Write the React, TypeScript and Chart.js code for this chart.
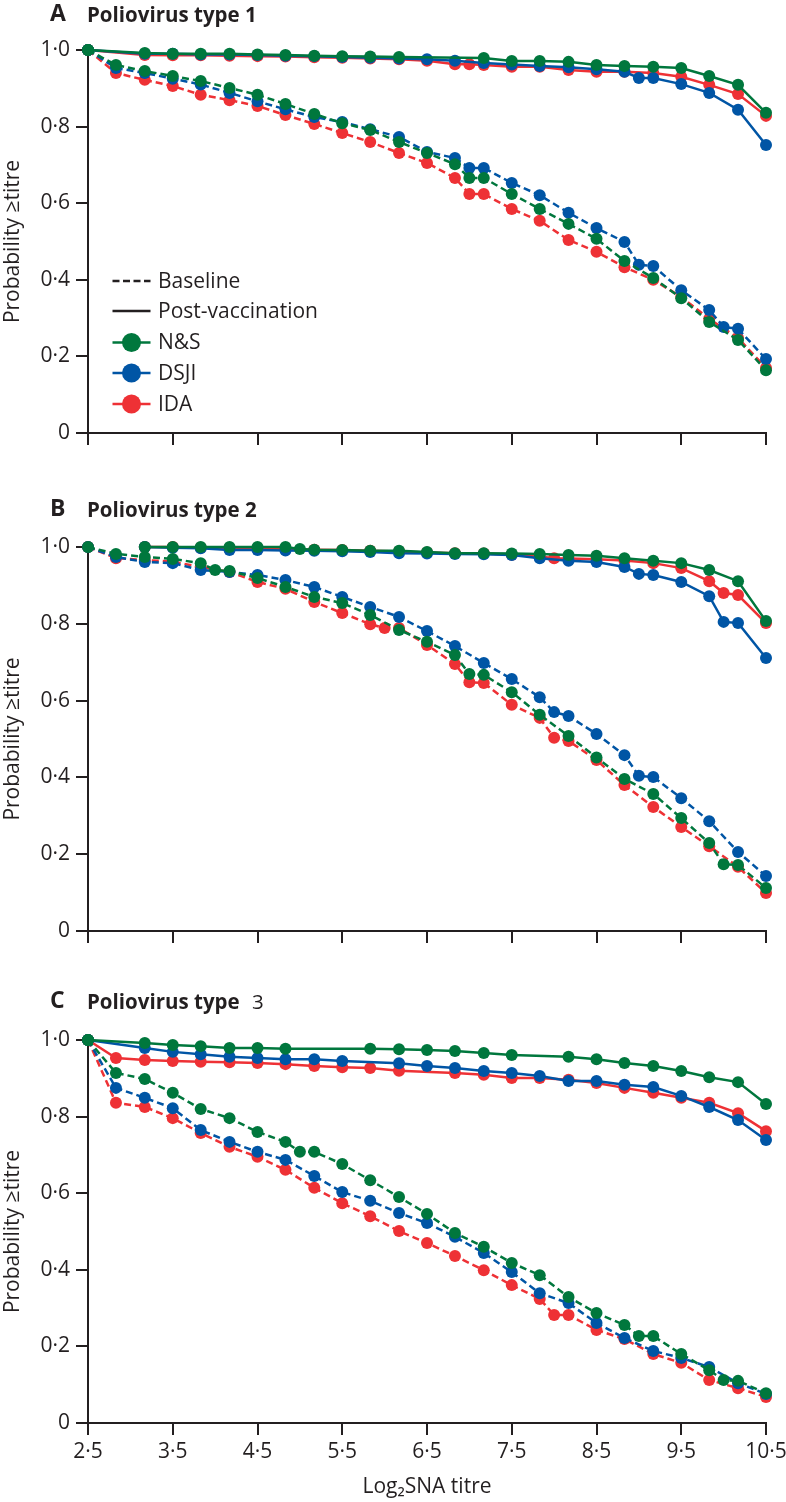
import React, { useEffect, useRef } from 'react';
import { Chart, registerables } from 'chart.js';
Chart.register(...registerables);

const X_TICKS = [2.5, 3.5, 4.5, 5.5, 6.5, 7.5, 8.5, 9.5, 10.5];
const X_TICK_LABELS = ['2·5', '3·5', '4·5', '5·5', '6·5', '7·5', '8·5', '9·5', '10·5'];
const Y_TICKS = [0, 0.2, 0.4, 0.6, 0.8, 1.0];
const Y_TICK_LABELS = ['0', '0·2', '0·4', '0·6', '0·8', '1·0'];
const GROUPS = ['N&S', 'DSJI', 'IDA'];
const COLORS = ['#00773d', '#0055a5', '#ee3135'];

// Panel A – Poliovirus type 1
const A_POST_NS = [[2.5,1.0],[3.17,0.992],[3.5,0.99],[3.83,0.99],[4.17,0.99],[4.5,0.988],[4.83,0.987],[5.17,0.985],[5.5,0.984],[5.83,0.983],[6.17,0.982],[7.17,0.979],[7.5,0.971],[7.83,0.971],[8.17,0.969],[8.5,0.961],[8.83,0.958],[9.17,0.956],[9.5,0.953],[9.83,0.932],[10.17,0.909],[10.5,0.836]];
const A_POST_DSJI = [[2.5,1.0],[3.17,0.99],[3.5,0.99],[3.83,0.988],[4.17,0.988],[4.5,0.987],[4.83,0.985],[5.17,0.984],[5.5,0.982],[5.83,0.98],[6.17,0.978],[6.5,0.976],[6.83,0.972],[7.17,0.966],[7.5,0.962],[7.83,0.958],[8.17,0.955],[8.5,0.95],[8.83,0.943],[9.0,0.927],[9.17,0.927],[9.5,0.911],[9.83,0.888],[10.17,0.844],[10.5,0.752]];
const A_POST_IDA = [[2.5,1.0],[3.17,0.987],[3.5,0.986],[3.83,0.986],[4.17,0.985],[4.5,0.984],[4.83,0.983],[5.17,0.981],[5.5,0.98],[5.83,0.978],[6.17,0.976],[6.5,0.972],[6.83,0.963],[7.0,0.963],[7.17,0.961],[7.5,0.956],[7.83,0.956],[8.17,0.948],[8.5,0.943],[8.83,0.943],[9.17,0.94],[9.5,0.93],[9.83,0.909],[10.17,0.885],[10.5,0.828]];
const A_BASE_NS = [[2.5,1.0],[2.83,0.961],[3.17,0.945],[3.5,0.932],[3.83,0.919],[4.17,0.901],[4.5,0.883],[4.83,0.859],[5.17,0.833],[5.5,0.809],[5.83,0.791],[6.17,0.76],[6.5,0.731],[6.83,0.702],[7.0,0.666],[7.17,0.666],[7.5,0.624],[7.83,0.585],[8.17,0.546],[8.5,0.507],[8.83,0.449],[9.17,0.405],[9.5,0.352],[9.83,0.29],[10.17,0.243],[10.5,0.164]];
const A_BASE_DSJI = [[2.5,1.0],[2.83,0.953],[3.17,0.94],[3.5,0.925],[3.83,0.91],[4.17,0.888],[4.5,0.866],[4.83,0.845],[5.17,0.825],[5.5,0.812],[5.83,0.793],[6.17,0.773],[6.5,0.734],[6.83,0.718],[7.0,0.692],[7.17,0.692],[7.5,0.653],[7.83,0.621],[8.17,0.575],[8.5,0.535],[8.83,0.499],[9.0,0.439],[9.17,0.436],[9.5,0.373],[9.83,0.321],[10.0,0.277],[10.17,0.272],[10.5,0.193]];
const A_BASE_IDA = [[2.5,1.0],[2.83,0.94],[3.17,0.922],[3.5,0.906],[3.83,0.883],[4.17,0.869],[4.5,0.854],[4.83,0.83],[5.17,0.807],[5.5,0.783],[5.83,0.76],[6.17,0.731],[6.5,0.705],[6.83,0.666],[7.0,0.624],[7.17,0.624],[7.5,0.585],[7.83,0.554],[8.17,0.504],[8.5,0.473],[8.83,0.433],[9.17,0.4],[9.5,0.355],[9.83,0.298],[10.17,0.248],[10.5,0.17]];

// Panel B – Poliovirus type 2
const B_POST_NS = [[3.17,1.0],[3.5,1.0],[3.83,1.0],[4.17,1.0],[4.5,1.0],[4.83,1.0],[5.0,0.995],[5.17,0.993],[5.5,0.992],[5.83,0.99],[6.17,0.99],[6.5,0.987],[6.83,0.984],[7.17,0.984],[7.5,0.983],[7.83,0.982],[8.17,0.979],[8.5,0.977],[8.83,0.971],[9.17,0.964],[9.5,0.958],[9.83,0.94],[10.17,0.911],[10.5,0.807]];
const B_POST_DSJI = [[3.17,1.0],[3.5,0.998],[3.83,0.997],[4.17,0.992],[4.5,0.992],[4.83,0.991],[5.17,0.99],[5.5,0.989],[5.83,0.987],[6.17,0.984],[6.5,0.983],[6.83,0.982],[7.17,0.981],[7.5,0.979],[7.83,0.971],[8.17,0.964],[8.5,0.961],[8.83,0.948],[9.0,0.93],[9.17,0.927],[9.5,0.909],[9.83,0.872],[10.0,0.805],[10.17,0.802],[10.5,0.711]];
const B_POST_IDA = [[3.17,1.0],[3.5,1.0],[3.83,0.998],[4.17,0.996],[4.5,0.995],[4.83,0.994],[5.17,0.993],[5.5,0.992],[5.83,0.99],[6.17,0.988],[6.5,0.986],[6.83,0.984],[7.17,0.983],[7.5,0.98],[7.83,0.975],[8.0,0.971],[8.17,0.97],[8.5,0.968],[8.83,0.965],[9.17,0.958],[9.5,0.945],[9.83,0.911],[10.0,0.88],[10.17,0.875],[10.5,0.802]];
const B_BASE_NS = [[2.5,1.0],[2.83,0.982],[3.17,0.974],[3.5,0.969],[3.83,0.958],[4.0,0.94],[4.17,0.9375],[4.5,0.919],[4.83,0.896],[5.17,0.87],[5.5,0.854],[5.83,0.823],[6.17,0.784],[6.5,0.753],[6.83,0.719],[7.0,0.669],[7.17,0.667],[7.5,0.622],[7.83,0.563],[8.17,0.508],[8.5,0.452],[8.83,0.396],[9.17,0.357],[9.5,0.294],[9.83,0.229],[10.0,0.174],[10.17,0.172],[10.5,0.112]];
const B_BASE_DSJI = [[2.5,1.0],[2.83,0.974],[3.17,0.961],[3.5,0.958],[3.83,0.94],[4.17,0.935],[4.5,0.927],[4.83,0.914],[5.17,0.896],[5.5,0.87],[5.83,0.844],[6.17,0.818],[6.5,0.781],[6.83,0.742],[7.17,0.698],[7.5,0.656],[7.83,0.609],[8.0,0.57],[8.17,0.56],[8.5,0.513],[8.83,0.458],[9.0,0.404],[9.17,0.401],[9.5,0.346],[9.83,0.286],[10.17,0.206],[10.5,0.143]];
const B_BASE_IDA = [[2.5,1.0],[2.83,0.971],[3.17,0.966],[3.5,0.962],[3.83,0.948],[4.17,0.935],[4.5,0.909],[4.83,0.891],[5.17,0.857],[5.5,0.828],[5.83,0.799],[6.0,0.789],[6.17,0.789],[6.5,0.745],[6.83,0.695],[7.0,0.648],[7.17,0.646],[7.5,0.589],[7.83,0.555],[8.0,0.503],[8.17,0.495],[8.5,0.445],[8.83,0.38],[9.17,0.323],[9.5,0.271],[9.83,0.221],[10.17,0.167],[10.5,0.099]];

// Panel C – Poliovirus type 3
const C_POST_NS = [[2.5,1.0],[3.17,0.992],[3.5,0.987],[3.83,0.984],[4.17,0.979],[4.5,0.979],[4.83,0.977],[5.83,0.977],[6.17,0.976],[6.5,0.974],[6.83,0.971],[7.17,0.966],[7.5,0.961],[8.17,0.956],[8.5,0.95],[8.83,0.94],[9.17,0.932],[9.5,0.919],[9.83,0.903],[10.17,0.89],[10.5,0.833]];
const C_POST_DSJI = [[2.5,1.0],[3.17,0.979],[3.5,0.969],[3.83,0.963],[4.17,0.956],[4.5,0.953],[4.83,0.95],[5.17,0.95],[5.5,0.945],[6.17,0.939],[6.5,0.932],[6.83,0.927],[7.17,0.919],[7.5,0.914],[7.83,0.906],[8.17,0.893],[8.5,0.893],[8.83,0.883],[9.17,0.877],[9.5,0.854],[9.83,0.825],[10.17,0.791],[10.5,0.739]];
const C_POST_IDA = [[2.5,1.0],[2.83,0.953],[3.17,0.948],[3.5,0.945],[3.83,0.943],[4.17,0.942],[4.5,0.94],[4.83,0.937],[5.17,0.932],[5.5,0.929],[5.83,0.927],[6.17,0.92],[6.83,0.914],[7.17,0.909],[7.5,0.901],[7.83,0.901],[8.17,0.896],[8.5,0.888],[8.83,0.875],[9.17,0.862],[9.5,0.849],[9.83,0.836],[10.17,0.809],[10.5,0.762]];
const C_BASE_NS = [[2.5,1.0],[2.83,0.914],[3.17,0.898],[3.5,0.862],[3.83,0.82],[4.17,0.796],[4.5,0.76],[4.83,0.734],[5.0,0.708],[5.17,0.708],[5.5,0.676],[5.83,0.634],[6.17,0.59],[6.5,0.546],[6.83,0.496],[7.17,0.46],[7.5,0.418],[7.83,0.386],[8.17,0.329],[8.5,0.287],[8.83,0.256],[9.0,0.227],[9.17,0.227],[9.5,0.18],[9.83,0.138],[10.0,0.112],[10.17,0.11],[10.5,0.078]];
const C_BASE_DSJI = [[2.5,1.0],[2.83,0.875],[3.17,0.849],[3.5,0.822],[3.83,0.765],[4.17,0.734],[4.5,0.708],[4.83,0.687],[5.17,0.645],[5.5,0.603],[5.83,0.58],[6.17,0.548],[6.5,0.522],[6.83,0.486],[7.17,0.444],[7.5,0.394],[7.83,0.339],[8.17,0.313],[8.5,0.261],[8.83,0.222],[9.17,0.188],[9.5,0.17],[9.83,0.146],[10.17,0.104],[10.5,0.076]];
const C_BASE_IDA = [[2.5,1.0],[2.83,0.836],[3.17,0.825],[3.5,0.796],[3.83,0.757],[4.17,0.721],[4.5,0.695],[4.83,0.661],[5.17,0.614],[5.5,0.574],[5.83,0.54],[6.17,0.501],[6.5,0.47],[6.83,0.436],[7.17,0.399],[7.5,0.36],[7.83,0.324],[8.0,0.282],[8.17,0.282],[8.5,0.243],[8.83,0.219],[9.17,0.18],[9.5,0.157],[9.83,0.112],[10.17,0.091],[10.5,0.068]];

const INK = '#231f20';
const FONT = "'Open Sans', sans-serif";
const FS = 21;
const CANVAS_W = 806;

type Pts = number[][];

function dataset(pts: Pts, color: string, dashed: boolean, label: string) {
  return {
    label,
    data: pts.map(([x, y]) => ({ x, y })),
    borderColor: color,
    backgroundColor: color,
    pointBackgroundColor: color,
    pointBorderColor: color,
    pointBorderWidth: 0,
    pointRadius: 6,
    borderWidth: 2.5,
    borderDash: dashed ? [7, 4] : [],
    tension: 0,
    clip: false as const,
  };
}

interface PanelProps {
  top: number;
  height: number;
  padTop: number;
  xAxisHeight: number;
  showXLabels: boolean;
  post: Pts[];
  base: Pts[];
}

function PanelChart(p: PanelProps) {
  const ref = useRef<HTMLCanvasElement>(null);
  useEffect(() => {
    if (!ref.current) return;
    const datasets: any[] = [];
    GROUPS.forEach((g, i) => {
      datasets.push(dataset(p.post[i], COLORS[i], false, g + ' post'));
      datasets.push(dataset(p.base[i], COLORS[i], true, g + ' baseline'));
    });
    const gridOpts = {
      drawOnChartArea: false,
      drawTicks: true,
      tickLength: 12,
      lineWidth: 2,
      color: INK,
    };
    const chart = new Chart(ref.current, {
      type: 'line',
      data: { datasets },
      options: {
        responsive: false,
        maintainAspectRatio: false,
        animation: false,
        layout: { padding: { top: p.padTop, left: 0, right: CANVAS_W - 766, bottom: 0 } },
        plugins: { legend: { display: false }, tooltip: { enabled: false } },
        scales: {
          x: {
            type: 'linear',
            min: 2.5,
            max: 10.5,
            afterBuildTicks: (s: any) => { s.ticks = X_TICKS.map((v) => ({ value: v })); },
            afterFit: (s: any) => { s.height = p.xAxisHeight; },
            ticks: {
              display: p.showXLabels,
              autoSkip: false,
              maxRotation: 0,
              padding: 4,
              color: INK,
              font: { family: FONT, size: FS },
              callback: (_v: any, i: number) => X_TICK_LABELS[i],
            },
            grid: gridOpts,
            border: { display: true, width: 2, color: INK },
            title: {
              display: p.showXLabels,
              text: 'Log₂SNA titre',
              color: INK,
              font: { family: FONT, size: FS },
              padding: { top: 0, bottom: 2 },
            },
          },
          y: {
            type: 'linear',
            min: 0,
            max: 1,
            afterBuildTicks: (s: any) => { s.ticks = Y_TICKS.map((v) => ({ value: v })); },
            afterFit: (s: any) => { s.width = 88; },
            ticks: {
              padding: 6,
              color: INK,
              font: { family: FONT, size: FS },
              callback: (_v: any, i: number) => Y_TICK_LABELS[i],
            },
            grid: gridOpts,
            border: { display: true, width: 2, color: INK },
            title: {
              display: true,
              text: 'Probability ≥titre',
              color: INK,
              font: { family: FONT, size: FS },
              padding: { top: 0, bottom: 0 },
            },
          },
        },
      } as any,
    });
    return () => chart.destroy();
  }, []);
  return (
    <canvas
      ref={ref}
      width={CANVAS_W}
      height={p.height}
      style={{ position: 'absolute', left: 0, top: p.top, width: CANVAS_W, height: p.height }}
    />
  );
}

function PanelTitle({ letter, text, top, extra }: { letter: string; text: string; top: number; extra?: string }) {
  return (
    <>
      <div style={{ position: 'absolute', left: 50, top: top - 3, font: `bold 23px ${FONT}`, lineHeight: '23px', color: INK }}>{letter}</div>
      <div style={{ position: 'absolute', left: 87, top, font: `bold 20.5px ${FONT}`, lineHeight: '20px', color: INK, whiteSpace: 'pre' }}>
        {text}
        {extra ? <span style={{ fontWeight: 400, marginLeft: 7 }}>{extra}</span> : null}
      </div>
    </>
  );
}

const LEGEND_ROWS = [
  { label: 'Baseline', y: 281, kind: 'dash', color: INK },
  { label: 'Post-vaccination', y: 311, kind: 'solid', color: INK },
  { label: GROUPS[0], y: 342.5, kind: 'dot', color: COLORS[0] },
  { label: GROUPS[1], y: 373, kind: 'dot', color: COLORS[1] },
  { label: GROUPS[2], y: 404, kind: 'dot', color: COLORS[2] },
];

function Legend() {
  return (
    <>
      <svg style={{ position: 'absolute', left: 0, top: 0 }} width={200} height={430}>
        {LEGEND_ROWS.map((r) => (
          <g key={r.label}>
            <line x1={112.5} x2={150.5} y1={r.y} y2={r.y} stroke={r.color} strokeWidth={2.5} strokeDasharray={r.kind === 'dash' ? '7 3.5' : undefined} />
            {r.kind === 'dot' ? <circle cx={131.5} cy={r.y} r={9.5} fill={r.color} /> : null}
          </g>
        ))}
      </svg>
      {LEGEND_ROWS.map((r) => (
        <div key={r.label + 't'} style={{ position: 'absolute', left: 158, top: r.y - 11.3, font: `${FS}px ${FONT}`, lineHeight: `${FS}px`, color: INK, whiteSpace: 'pre' }}>
          {r.label}
        </div>
      ))}
    </>
  );
}

export default function App() {
  return (
    <div style={{ position: 'absolute', left: 0, top: 0, width: 786, height: 1502, overflow: 'hidden', background: '#fff' }}>
      <PanelChart top={0} height={460} padTop={50} xAxisHeight={27} showXLabels={false}
        post={[A_POST_NS, A_POST_DSJI, A_POST_IDA]} base={[A_BASE_NS, A_BASE_DSJI, A_BASE_IDA]} />
      <PanelChart top={480} height={470} padTop={67} xAxisHeight={19} showXLabels={false}
        post={[B_POST_NS, B_POST_DSJI, B_POST_IDA]} base={[B_BASE_NS, B_BASE_DSJI, B_BASE_IDA]} />
      <PanelChart top={960} height={542} padTop={80} xAxisHeight={79} showXLabels={true}
        post={[C_POST_NS, C_POST_DSJI, C_POST_IDA]} base={[C_BASE_NS, C_BASE_DSJI, C_BASE_IDA]} />
      <PanelTitle letter="A" text="Poliovirus type 1" top={4} />
      <PanelTitle letter="B" text="Poliovirus type 2" top={499} />
      <PanelTitle letter="C" text="Poliovirus type " top={991} extra="3" />
      <Legend />
    </div>
  );
}
